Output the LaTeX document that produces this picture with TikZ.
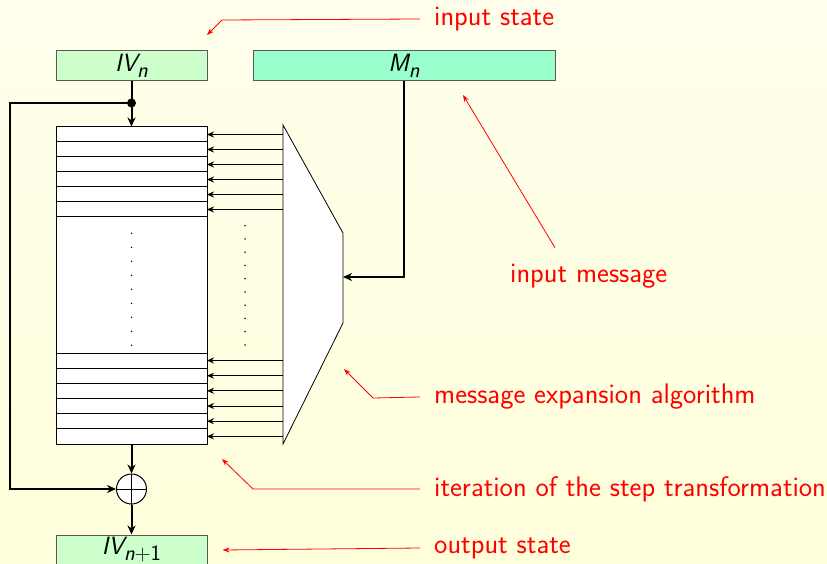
\documentclass[tikz,border=0pt]{standalone}
\usepackage{fontspec}
\usetikzlibrary{arrows.meta}

\definecolor{bgtop}{RGB}{255,255,236}
\definecolor{bgbot}{RGB}{255,255,220}
\definecolor{ivgreen}{RGB}{204,255,204}
\definecolor{mgreen}{RGB}{153,255,204}

\newcommand{\lowidx}[1]{\raisebox{-6pt}{\fontsize{22}{24}\selectfont #1}}

\tikzset{
  statebox/.style={draw=black!65, line width=1pt, minimum width=151pt,
                   minimum height=30pt, inner sep=0pt,
                   font=\fontsize{25}{27}\selectfont\sffamily\itshape},
  note/.style={red, anchor=west, inner sep=0pt,
               font=\fontsize{28.3}{32}\selectfont\sffamily},
  pointer/.style={red, line width=0.8pt, -{Stealth[length=7pt,width=5pt]}},
  flow/.style={line width=2pt, -{Stealth[length=9pt,width=8pt]}},
  feed/.style={line width=0.8pt, -{Stealth[length=7pt,width=6pt]}}
}

\begin{document}
\begin{tikzpicture}[x=1pt,y=-1pt]
    % Fondo
    \shade[top color=bgtop, bottom color=bgbot] (0,0) rectangle (827,564);
    \useasboundingbox (0,0) rectangle (827,564);

    % Estados y mensaje
    \node[statebox, fill=ivgreen] (iv) at (131.5,66) {IV\lowidx{n}};
    \node[statebox, fill=mgreen, minimum width=302pt] (msg) at (404,66) {M\lowidx{n}};
    \node[statebox, fill=ivgreen] (ivout) at (131.5,550) {IV\lowidx{n\upshape+1}};

    % Registro de pasos
    \node[draw, fill=white, line width=1pt, minimum width=151pt, minimum height=317pt,
          inner sep=0pt] (reg) at (131.5,285.5) {};
    \foreach \i in {1,...,6}
        \draw[line width=1pt] (56,{127+15*\i}) -- (207,{127+15*\i});
    \foreach \i in {0,...,5}
        \draw[line width=1pt] (56,{353+15.17*\i}) -- (207,{353+15.17*\i});
    \foreach \i in {0,...,8}
        \fill (131.5,{233.3+14*\i}) circle (0.8pt);

    % Expansion del mensaje
    \draw[fill=white, line width=0.8pt] (283,125) -- (343,233) -- (343,323)
          -- (283,444) -- cycle;
    \coordinate (expin) at (343,277);
    \foreach \y in {134.5,149.5,164.5,179.5,194.5,209.5,
                    360.5,375.7,390.8,406,421.2,436.4}
        \draw[feed] (283,\y) -- (207,\y);
    \foreach \i in {0,...,9}
        \fill (245,{225.7+13.25*\i}) circle (0.8pt);

    % XOR y realimentacion
    \node[draw, circle, fill=white, line width=1pt, minimum size=30pt,
          inner sep=0pt] (xor) at (131.5,489) {};
    \draw[line width=1pt] (xor.north) -- (xor.south) (xor.west) -- (xor.east);
    \coordinate (split) at (131.5,103);

    \draw[flow] (iv.south) -- (reg.north);
    \fill (split) circle (4.5pt);
    \draw[flow] (split) -- ++(-121.5,0) |- (xor.west);
    \draw[flow] (reg.south) -- (xor.north);
    \draw[flow] (xor.south) -- (ivout.north);
    \draw[flow] (msg.south) |- (expin);

    % Etiquetas
    \node[note] (tin) at (434,19) {input state};
    \node[note] (tmsg) at (510,276) {input message};
    \node[note] (texp) at (434,397) {message expansion algorithm};
    \node[note] (titer) at (434,489) {iteration of the step transformation};
    \node[note] (tout) at (434,548) {output state};

    \coordinate (intip) at (207,35);
    \coordinate (msgtip) at (463,95);
    \coordinate (exptip) at (344,369);
    \coordinate (itertip) at (222,459);

    \draw[pointer] ([xshift=-14pt]tin.west) -- (222,20) -- (intip);
    \draw[pointer] ([shift={(45,-16)}]tmsg.north west) -- (msgtip);
    \draw[pointer] ([xshift=-14pt]texp.west) -- (373,398) -- (exptip);
    \draw[pointer] ([xshift=-14pt]titer.west) -- (253,489) -- (itertip);
    \draw[pointer] ([xshift=-14pt]tout.west) -- ([xshift=15pt]ivout.east);
\end{tikzpicture}
\end{document}
